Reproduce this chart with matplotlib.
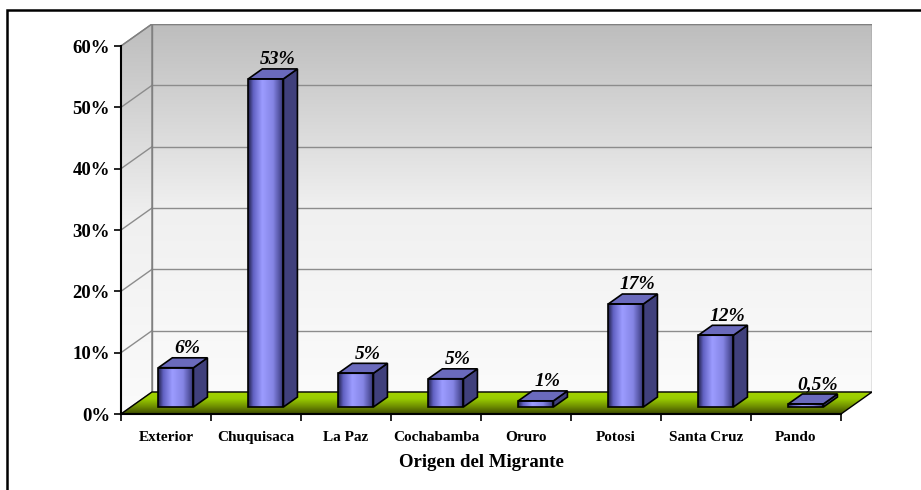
import numpy as np
import matplotlib
matplotlib.use("Agg")
import matplotlib.pyplot as plt
from matplotlib.patches import Polygon, Rectangle
from matplotlib.colors import LinearSegmentedColormap
from matplotlib.transforms import blended_transform_factory

# datos
categorias = ["Exterior", "Chuquisaca", "La Paz", "Cochabamba", "Oruro", "Potosi", "Santa Cruz", "Pando"]
porcentajes = [6.4, 53.5, 5.5, 4.6, 1.0, 16.8, 11.7, 0.5]
etiquetas = ["6%", "53%", "5%", "5%", "1%", "17%", "12%", "0,5%"]
yticks = [0, 10, 20, 30, 40, 50, 60]

plt.rcParams["font.family"] = ["Liberation Serif", "DejaVu Serif"]

fig = plt.figure(figsize=(9.21, 4.9), dpi=100)
W, H = 921, 490
ax = fig.add_axes([121 / W, 1 - 414 / H, (872 - 121) / W, (414 - 24) / H])

n = len(categorias)
DX = 31 / 90          # profundidad en unidades de categoria
DY = 22 / 6.133       # profundidad en unidades de porcentaje
ymax = 60
f0, f1 = 0.32, 0.77   # fondo de las barras dentro de la profundidad
ancho = 0.39

# pared del fondo con degradado
wall_cmap = LinearSegmentedColormap.from_list("wall", ["#fbfbfb", "#f0f0f0", "#bdbdbd"])
grad_v = np.linspace(0, 1, 256).reshape(-1, 1)
back = Rectangle((DX, DY), n, ymax, facecolor="none", edgecolor="#808080", lw=1, zorder=2)
ax.add_patch(back)
im = ax.imshow(grad_v, extent=[DX, n + DX, DY, ymax + DY], origin="lower", cmap=wall_cmap,
               aspect="auto", zorder=0)
im.set_clip_path(back)

# pared lateral
lado = Polygon([(0, 0), (DX, DY), (DX, ymax + DY), (0, ymax)], closed=True,
               facecolor="none", edgecolor="#808080", lw=1, zorder=2)
ax.add_patch(lado)
im2 = ax.imshow(grad_v, extent=[0, DX, 0, ymax + DY], origin="lower", cmap=wall_cmap,
                aspect="auto", zorder=0)
im2.set_clip_path(lado)

# lineas de cuadricula
for v in yticks[1:]:
    ax.plot([DX, n + DX], [v + DY, v + DY], color="#8c8c8c", lw=1, zorder=1)
    ax.plot([0, DX], [v, v + DY], color="#8c8c8c", lw=1, zorder=1)

# piso verde
piso = Polygon([(0, 0), (n, 0), (n + DX, DY), (DX, DY)], closed=True,
               facecolor="none", edgecolor="black", lw=1, zorder=3)
ax.add_patch(piso)
floor_cmap = LinearSegmentedColormap.from_list("floor", ["#3d4a00", "#6f8f00", "#99cc00", "#a4d400"])
im3 = ax.imshow(grad_v, extent=[0, n + DX, 0, DY], origin="lower", cmap=floor_cmap,
                aspect="auto", zorder=2)
im3.set_clip_path(piso)

# barras
x = np.arange(n) + 0.5
front_cmap = LinearSegmentedColormap.from_list(
    "front", [(0, "#1e1e44"), (0.15, "#6262c4"), (0.4, "#9c9cff"), (0.7, "#8484e4"),
              (0.9, "#4c4c98"), (1, "#2a2a58")])
grad_h = np.linspace(0, 1, 256).reshape(1, -1)
barras = ax.bar(x + f0 * DX, porcentajes, width=ancho, bottom=f0 * DY,
                facecolor="none", edgecolor="black", lw=1.2, zorder=6)
dxp = (f1 - f0) * DX
dyp = (f1 - f0) * DY
for b, v, lab in zip(barras, porcentajes, etiquetas):
    x0, y0 = b.get_x(), b.get_y()
    x1, y1 = x0 + b.get_width(), y0 + b.get_height()
    imb = ax.imshow(grad_h, extent=[x0, x1, y0, y1], cmap=front_cmap, aspect="auto", zorder=5)
    imb.set_clip_path(b)
    lateral = Polygon([(x1, y0), (x1 + dxp, y0 + dyp), (x1 + dxp, y1 + dyp), (x1, y1)],
                      closed=True, facecolor="#40407c", edgecolor="black", lw=1.2, zorder=5)
    tapa = Polygon([(x0, y1), (x1, y1), (x1 + dxp, y1 + dyp), (x0 + dxp, y1 + dyp)],
                   closed=True, facecolor="#6a6abc", edgecolor="black", lw=1.2, zorder=5)
    ax.add_patch(lateral)
    ax.add_patch(tapa)
    ax.text((x0 + x1) / 2 + dxp / 2 + 0.05, y1 + dyp + 0.1, lab, ha="center", va="bottom",
            fontsize=14, fontweight="bold", fontstyle="italic", zorder=7)

# ejes
ax.set_xlim(0, n + DX)
ax.set_ylim(0, ymax + DY)
for s in ["top", "right"]:
    ax.spines[s].set_visible(False)
ax.spines["left"].set_bounds(0, ymax)
ax.spines["bottom"].set_bounds(0, n)
ax.spines["left"].set_linewidth(1.5)
ax.spines["bottom"].set_linewidth(1.5)
ax.spines["left"].set_zorder(8)
ax.spines["bottom"].set_zorder(8)

ax.set_yticks(yticks, [f"{v}%" for v in yticks])
ax.tick_params(axis="y", length=5, width=1.2, labelsize=13.5, pad=3)
for t in ax.get_yticklabels():
    t.set_fontweight("bold")

ax.set_xticks(x, categorias)
ax.set_xticks(np.arange(n + 1), minor=True)
ax.tick_params(axis="x", which="major", length=0, labelsize=11, pad=12)
ax.tick_params(axis="x", which="minor", length=5, width=1.2)
for t in ax.get_xticklabels():
    t.set_fontweight("bold")

trans = blended_transform_factory(ax.transData, ax.transAxes)
ax.text(n / 2, -0.125, "Origen del Migrante", transform=trans, ha="center", va="center",
        fontsize=13.5, fontweight="bold")

# marco
fig.add_artist(Rectangle((7 / W, -0.1), 1.1, 1 - 10 / H + 0.1, transform=fig.transFigure,
                         facecolor="none", edgecolor="black", lw=1.8))

fig.savefig("out.png", dpi=100)
